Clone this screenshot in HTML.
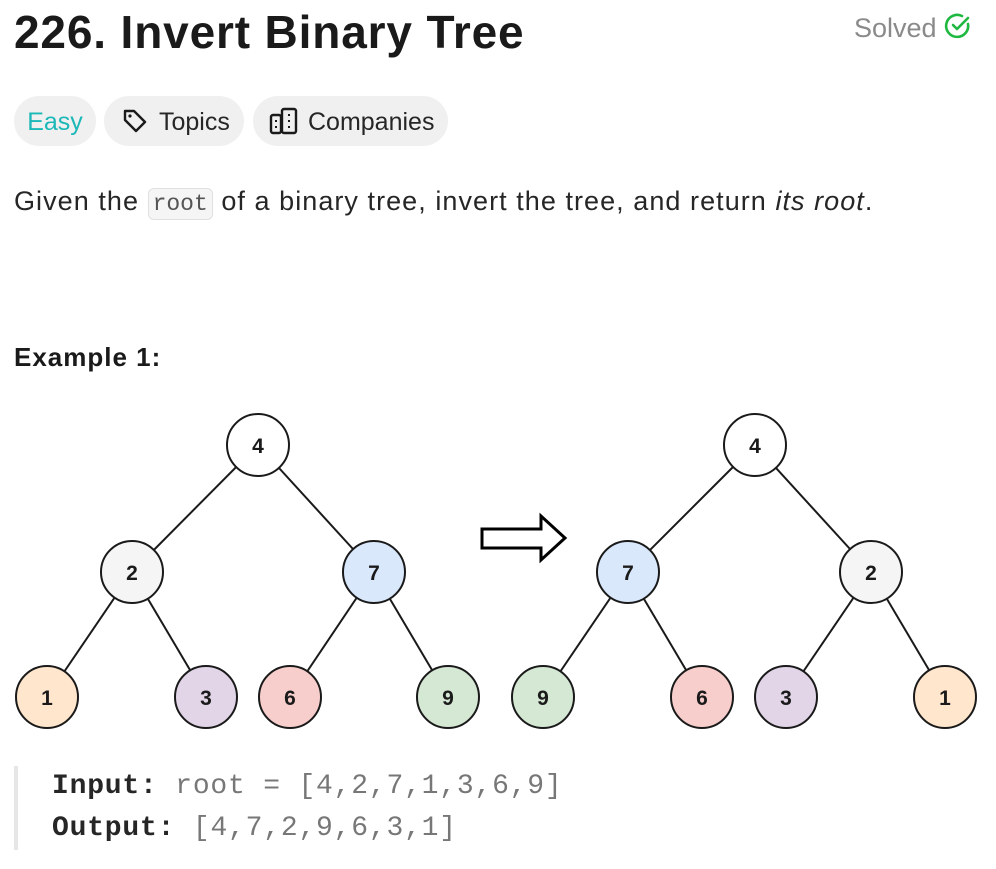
<!DOCTYPE html>
<html><head><meta charset="utf-8"><style>
body{margin:0;background:#fff;width:996px;height:869px;overflow:hidden;font-family:"Segoe UI","Liberation Sans",sans-serif;color:#262626;position:relative}
.t{position:absolute;left:14px;top:5px;font-size:46px;font-weight:bold;color:#1a1a1a;letter-spacing:0.85px}
.solved{position:absolute;left:854px;top:12px;font-size:27px;color:#8a8a8a}
.pill{position:absolute;top:96px;height:50px;border-radius:25px;background:#f0f0f0;font-size:25px;line-height:52px;color:#262626}
.p{position:absolute;left:14px;top:186px;font-size:27px;letter-spacing:1.05px;color:#262626}
code{font-family:"Liberation Mono",monospace;font-size:23px;letter-spacing:0;background:#f5f5f5;border:1px solid #e0e0e0;border-radius:6px;padding:2px 4px;color:#555}
.ex{position:absolute;left:14px;top:342px;font-size:26px;font-weight:bold;color:#1a1a1a;letter-spacing:1px}
.pre{position:absolute;left:14px;top:766px;border-left:4px solid #e6e6e6;padding-left:34px;font-family:"Liberation Mono",monospace;font-size:28px;line-height:42px;color:#777;height:84px;letter-spacing:0.8px}
.pre b{color:#262626}
</style></head><body>
<div class="t">226. Invert Binary Tree</div>
<div class="solved">Solved <svg width="28" height="28" viewBox="0 0 28 28" style="vertical-align:-3px"><path d="M24 12 A11 11 0 1 1 18 4" fill="none" stroke="#1fb841" stroke-width="2.6" stroke-linecap="round"/><path d="M9 13 L13 17 L24 6" fill="none" stroke="#1fb841" stroke-width="2.6" stroke-linecap="round" stroke-linejoin="round"/></svg></div>
<div class="pill" style="left:14px;width:82px;color:#1cb8b8;text-align:center">Easy</div>
<div class="pill" style="left:104px;width:140px"><svg style="position:absolute;left:18px;top:12px" width="26" height="26" viewBox="0 0 26 26"><path d="M3 3 L12 3 L23 14 L14 23 L3 12 Z" fill="none" stroke="#1a1a1a" stroke-width="2.4" stroke-linejoin="round"/><circle cx="8" cy="8" r="1.6" fill="#1a1a1a"/></svg><span style="position:absolute;left:55px">Topics</span></div>
<div class="pill" style="left:253px;width:195px"><svg style="position:absolute;left:16px;top:10px" width="30" height="30" viewBox="0 0 30 30"><rect x="2" y="9" width="10" height="18" rx="2" fill="none" stroke="#1a1a1a" stroke-width="2.4"/><rect x="13" y="3" width="14" height="24" rx="2" fill="none" stroke="#1a1a1a" stroke-width="2.4"/><rect x="6" y="14" width="2" height="2" fill="#1a1a1a"/><rect x="6" y="20" width="2" height="2" fill="#1a1a1a"/><rect x="19" y="8" width="2" height="2" fill="#1a1a1a"/><rect x="19" y="14" width="2" height="2" fill="#1a1a1a"/><rect x="19" y="20" width="2" height="2" fill="#1a1a1a"/></svg><span style="position:absolute;left:55px">Companies</span></div>
<div class="p">Given the <code>root</code> of a binary tree, invert the tree, and return <i>its root</i>.</div>
<div class="ex">Example 1:</div>
<svg style="position:absolute;left:0;top:0" width="996" height="869">
<g stroke="#1a1a1a" stroke-width="2">
<line x1="258" y1="445" x2="132" y2="572"/><line x1="258" y1="445" x2="374" y2="572"/>
<line x1="132" y1="572" x2="47" y2="697"/><line x1="132" y1="572" x2="206" y2="697"/>
<line x1="374" y1="572" x2="290" y2="697"/><line x1="374" y1="572" x2="448" y2="697"/>
<line x1="755" y1="445" x2="628" y2="572"/><line x1="755" y1="445" x2="871" y2="572"/>
<line x1="628" y1="572" x2="543" y2="697"/><line x1="628" y1="572" x2="702" y2="697"/>
<line x1="871" y1="572" x2="786" y2="697"/><line x1="871" y1="572" x2="945" y2="697"/>
</g>
<g stroke="#1a1a1a" stroke-width="2" font-family="Liberation Sans,sans-serif" font-weight="bold" font-size="21" text-anchor="middle">
<circle cx="258" cy="445" r="31" fill="#fff"/><circle cx="132" cy="572" r="31" fill="#f5f5f5"/><circle cx="374" cy="572" r="31" fill="#dae8fc"/>
<circle cx="47" cy="697" r="31" fill="#ffe6cc"/><circle cx="206" cy="697" r="31" fill="#e1d5e7"/><circle cx="290" cy="697" r="31" fill="#f8cecc"/><circle cx="448" cy="697" r="31" fill="#d5e8d4"/>
<circle cx="755" cy="445" r="31" fill="#fff"/><circle cx="628" cy="572" r="31" fill="#dae8fc"/><circle cx="871" cy="572" r="31" fill="#f5f5f5"/>
<circle cx="543" cy="697" r="31" fill="#d5e8d4"/><circle cx="702" cy="697" r="31" fill="#f8cecc"/><circle cx="786" cy="697" r="31" fill="#e1d5e7"/><circle cx="945" cy="697" r="31" fill="#ffe6cc"/>
<g stroke="none" fill="#1a1a1a">
<text x="258" y="453">4</text><text x="132" y="580">2</text><text x="374" y="580">7</text>
<text x="47" y="705">1</text><text x="206" y="705">3</text><text x="290" y="705">6</text><text x="448" y="705">9</text>
<text x="755" y="453">4</text><text x="628" y="580">7</text><text x="871" y="580">2</text>
<text x="543" y="705">9</text><text x="702" y="705">6</text><text x="786" y="705">3</text><text x="945" y="705">1</text>
</g></g>
<path d="M482 529 L541 529 L541 516 L565 538 L541 560 L541 548 L482 548 Z" fill="#fff" stroke="#000" stroke-width="3" stroke-linejoin="miter"/>
</svg>
<div class="pre"><b>Input:</b> root = [4,2,7,1,3,6,9]<br><b>Output:</b> [4,7,2,9,6,3,1]</div>
</body></html>
